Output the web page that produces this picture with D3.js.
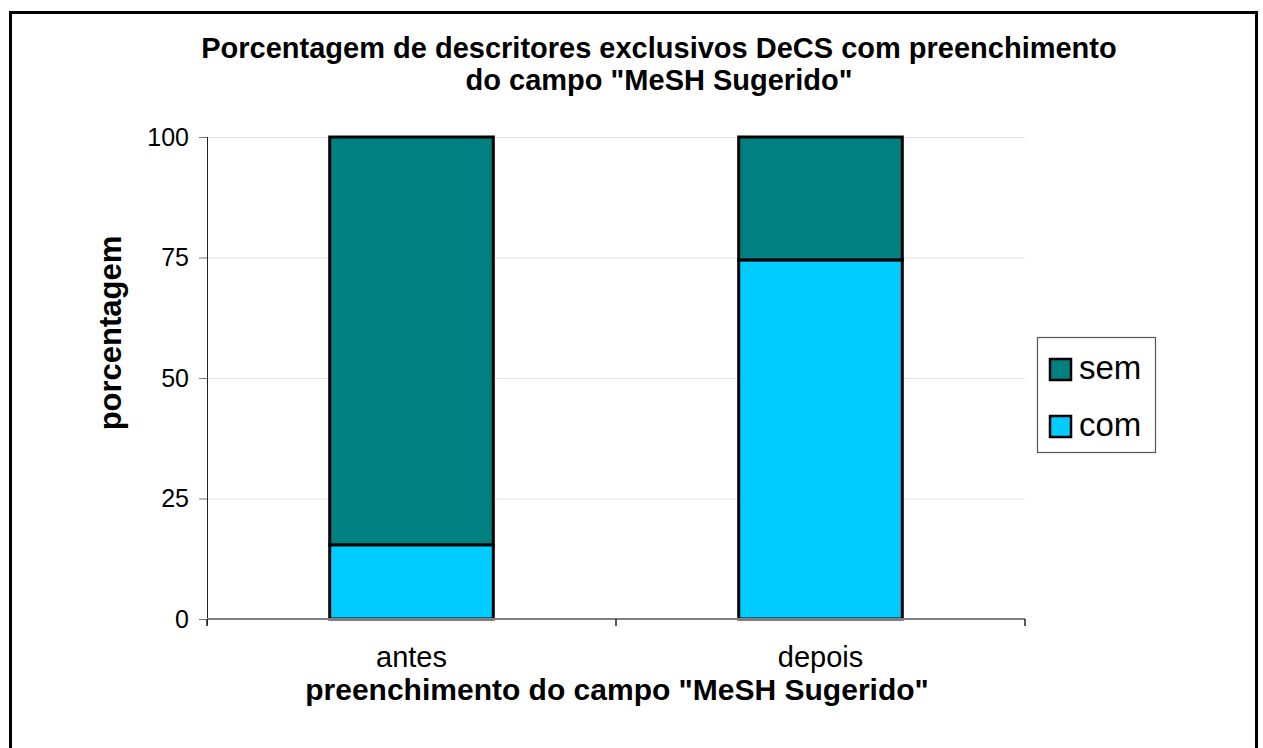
<!DOCTYPE html>
<html>
<head>
<meta charset="utf-8">
<script src="https://cdn.jsdelivr.net/npm/d3@7"></script>
<style>
  body { margin: 0; background: #fff; }
  svg { display: block; font-family: "Liberation Sans", Arial, sans-serif; }
</style>
</head>
<body>
<div class="vis-chart"></div>
<script>
const categories = ['antes', 'depois'];
const seriesNames = ['com', 'sem'];
const comValues = [15.4, 74.5];
const semValues = [84.6, 25.5];
const yTicks = [0, 25, 50, 75, 100];
const titleLines = ['Porcentagem de descritores exclusivos DeCS com preenchimento', 'do campo "MeSH Sugerido"'];
const xTitle = 'preenchimento do campo "MeSH Sugerido"';
const yTitle = 'porcentagem';

const colors = { com: '#00ccff', sem: '#008080' };

const W = 1263, H = 748;
const margin = { top: 137, right: 238, bottom: 129, left: 207 };
const width = W - margin.left - margin.right;
const height = H - margin.top - margin.bottom;

const svg = d3.select('.vis-chart')
  .append('svg')
  .attr('width', W)
  .attr('height', H);

// outer frame (bottom edge runs off the picture)
svg.append('rect')
  .attr('x', 10.5).attr('y', 12.5)
  .attr('width', 1246).attr('height', 760)
  .attr('fill', 'none')
  .attr('stroke', '#000')
  .attr('stroke-width', 3);

const g = svg.append('g')
  .attr('transform', `translate(${margin.left},${margin.top})`);

const x = d3.scaleBand()
  .domain(categories)
  .range([0, width])
  .paddingInner(0.6)
  .paddingOuter(0.3);

const y = d3.scaleLinear()
  .domain([0, 100])
  .range([height, 0]);

// gridlines
g.selectAll('.grid')
  .data(yTicks.filter((d) => d > 0))
  .enter()
  .append('line')
  .attr('x1', 0).attr('x2', width)
  .attr('y1', (d) => y(d) + 0.5).attr('y2', (d) => y(d) + 0.5)
  .attr('stroke', '#e3e3e3')
  .attr('stroke-width', 1);

const rows = categories.map((c, i) => ({ cat: c, com: comValues[i], sem: semValues[i] }));
const stacked = d3.stack().keys(seriesNames)(rows);

g.selectAll('.series')
  .data(stacked)
  .enter()
  .append('g')
  .attr('fill', (d) => colors[d.key])
  .selectAll('rect')
  .data((d) => d)
  .enter()
  .append('rect')
  .attr('x', (d) => x(d.data.cat))
  .attr('y', (d) => y(d[1]))
  .attr('width', x.bandwidth())
  .attr('height', (d) => y(d[0]) - y(d[1]))
  .attr('stroke', '#000')
  .attr('stroke-width', 3);

// y axis
const yAxis = g.append('g')
  .call(d3.axisLeft(y).tickValues(yTicks).tickSize(8).tickPadding(10));
yAxis.select('.domain').attr('stroke', '#222').attr('d', `M0.5,0V${height + 6}`);
yAxis.selectAll('.tick line').attr('stroke', '#777');
yAxis.selectAll('.tick text')
  .attr('font-size', 25)
  .attr('fill', '#000')
  .attr('font-family', '"Liberation Sans", Arial, sans-serif');

// x axis
const xAxis = g.append('g')
  .attr('transform', `translate(0,${height})`)
  .call(d3.axisBottom(x).tickSize(0).tickPadding(27));
xAxis.select('.domain').attr('stroke', '#808080').attr('stroke-width', 2).attr('d', `M0,0H${width}`);
xAxis.selectAll('.tick text')
  .attr('font-size', 29)
  .attr('fill', '#000')
  .attr('font-family', '"Liberation Sans", Arial, sans-serif');

// category boundary ticks
xAxis.selectAll('.sep')
  .data([0, 1, 2])
  .enter()
  .append('line')
  .attr('x1', (d) => d * width / 2).attr('x2', (d) => d * width / 2)
  .attr('y1', 0).attr('y2', 7)
  .attr('stroke', '#222')
  .attr('stroke-width', 1.5);

// title
svg.append('g')
  .selectAll('text')
  .data(titleLines)
  .enter()
  .append('text')
  .attr('x', 659)
  .attr('y', (d, i) => 58 + i * 32)
  .attr('text-anchor', 'middle')
  .attr('font-size', 29)
  .attr('font-weight', 'bold')
  .text((d) => d);

svg.append('text')
  .attr('x', 617).attr('y', 700)
  .attr('text-anchor', 'middle')
  .attr('font-size', 30)
  .attr('font-weight', 'bold')
  .text(xTitle);

svg.append('text')
  .attr('transform', 'translate(121,333) rotate(-90)')
  .attr('text-anchor', 'middle')
  .attr('font-size', 31)
  .attr('font-weight', 'bold')
  .text(yTitle);

// legend
const legend = svg.append('g').attr('transform', 'translate(1037,337)');
legend.append('rect')
  .attr('x', 0.5).attr('y', 0.5)
  .attr('width', 118).attr('height', 115)
  .attr('fill', '#fff')
  .attr('stroke', '#555')
  .attr('stroke-width', 1.2);

const legendItems = ['sem', 'com'];
const li = legend.selectAll('.item')
  .data(legendItems)
  .enter()
  .append('g')
  .attr('transform', (d, i) => `translate(13,${22 + i * 57})`);
li.append('rect')
  .attr('x', 0).attr('y', 0)
  .attr('width', 21).attr('height', 21)
  .attr('fill', (d) => colors[d])
  .attr('stroke', '#000')
  .attr('stroke-width', 2.5);
li.append('text')
  .attr('x', 29).attr('y', 20)
  .attr('font-size', 33)
  .text((d) => d);
</script>
</body>
</html>
